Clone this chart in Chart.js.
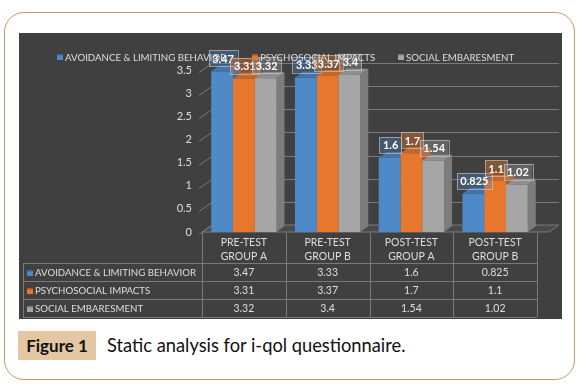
<!DOCTYPE html>
<html>
<head>
<meta charset="utf-8">
<script src="https://cdn.jsdelivr.net/npm/chart.js@4.4.1/dist/chart.umd.min.js"></script>
<style>
  html, body { margin: 0; padding: 0; background: #fff; }
  body { width: 577px; height: 384px; position: relative; overflow: hidden; font-family: Lato, "Open Sans", sans-serif; }
  .frame { position: absolute; left: 4px; top: 12px; width: 569px; height: 366px; border: 1.5px solid #c39a64; border-radius: 20px; }
  .panel { position: absolute; left: 19px; top: 33px; width: 543px; height: 286px; background: #404040; }
  .panel canvas { display: block; }
  .tag { position: absolute; left: 18px; top: 331px; width: 78px; height: 29px; background: #e3c6a2; color: #111; font-weight: bold; font-size: 17px; line-height: 29px; text-align: center; }
  .caption { position: absolute; left: 107px; top: 331px; line-height: 29px; font-size: 18.3px; color: #111; }
</style>
</head>
<body>
<div class="frame"></div>
<div class="panel"><canvas id="chart" width="543" height="286"></canvas></div>
<div class="tag">Figure 1</div>
<div class="caption">Static analysis for i-qol questionnaire.</div>
<script>
// data
const categories = [["PRE-TEST", "GROUP A"], ["PRE-TEST", "GROUP B"], ["POST-TEST", "GROUP A"], ["POST-TEST", "GROUP B"]];
const seriesNames = ["AVOIDANCE & LIMITING BEHAVIOR", "PSYCHOSOCIAL IMPACTS", "SOCIAL EMBARESMENT"];
const avoidance = [3.47, 3.33, 1.6, 0.825];
const psychosocial = [3.31, 3.37, 1.7, 1.1];
const embaresment = [3.32, 3.4, 1.54, 1.02];

const front = ["#4e89c8", "#e8772e", "#a6a6a6"];
const side = ["#386796", "#ad5720", "#7c7c7c"];
const top_ = ["#4374a8", "#c4652a", "#8f8f8f"];
const labelFill = ["rgba(78,137,200,0.35)", "rgba(232,119,46,0.4)", "rgba(166,166,166,0.35)"];

const DX = 8, DY = 6;   // 3d depth offset
const textCol = "#dedede";
const lineCol = "#7a7a7a";

// floor, back wall gridlines and the side/top faces of each column
const depthPlugin = {
  id: "depth",
  beforeDatasetsDraw(chart) {
    const ctx = chart.ctx, a = chart.chartArea, ys = chart.scales.y;
    ctx.save();
    ctx.strokeStyle = lineCol;
    ctx.lineWidth = 1;
    // floor
    const y0 = ys.getPixelForValue(0);
    ctx.fillStyle = "#4a4a4a";
    ctx.beginPath();
    ctx.moveTo(a.left, y0);
    ctx.lineTo(a.right + 12, y0);
    ctx.lineTo(a.right + 12 + DX + 2, y0 - DY - 1);
    ctx.lineTo(a.left + DX + 2, y0 - DY - 1);
    ctx.closePath();
    ctx.fill();
    ctx.stroke();
    // gridlines + diagonal ticks
    ys.ticks.forEach(t => {
      const y = Math.round(ys.getPixelForValue(t.value)) + 0.5;
      ctx.beginPath();
      ctx.moveTo(a.left - 3, y + 2);
      ctx.lineTo(a.left + DX + 2, y - DY - 1);
      if (t.value > 0) ctx.lineTo(a.right + 12 + DX + 2, y - DY - 1);
      ctx.stroke();
    });
    // faces
    chart.data.datasets.forEach((ds, di) => {
      chart.getDatasetMeta(di).data.forEach(bar => {
        const p = bar.getProps(["x", "y", "base", "width"], true);
        const l = p.x - p.width / 2, r = p.x + p.width / 2;
        ctx.fillStyle = side[di];
        ctx.beginPath();
        ctx.moveTo(r, p.y); ctx.lineTo(r + DX, p.y - DY);
        ctx.lineTo(r + DX, p.base - DY); ctx.lineTo(r, p.base);
        ctx.closePath(); ctx.fill();
        ctx.fillStyle = top_[di];
        ctx.beginPath();
        ctx.moveTo(l, p.y); ctx.lineTo(l + DX, p.y - DY);
        ctx.lineTo(r + DX, p.y - DY); ctx.lineTo(r, p.y);
        ctx.closePath(); ctx.fill();
      });
    });
    ctx.restore();
  },
  afterDatasetsDraw(chart) {
    // value boxes above the columns
    const ctx = chart.ctx;
    ctx.save();
    ctx.font = "bold 11px Lato";
    ctx.textAlign = "center";
    ctx.textBaseline = "middle";
    chart.data.datasets.forEach((ds, di) => {
      chart.getDatasetMeta(di).data.forEach((bar, i) => {
        const p = bar.getProps(["x", "y"], true);
        const txt = String(ds.data[i]);
        const w = ctx.measureText(txt).width + 7, h = 16;
        const cx = p.x + 1, by = p.y - 5;
        ctx.fillStyle = labelFill[di];
        ctx.fillRect(cx - w / 2, by - h, w, h);
        ctx.strokeStyle = "rgba(215,215,215,0.55)";
        ctx.strokeRect(Math.round(cx - w / 2) + 0.5, Math.round(by - h) + 0.5, Math.round(w), h);
        ctx.fillStyle = "#fff";
        ctx.fillText(txt, cx, by - h / 2 + 1);
      });
    });
    ctx.restore();
  },
  afterDraw(chart) {
    const ctx = chart.ctx, a = chart.chartArea, xs = chart.scales.x;
    const n = categories.length, cw = (a.right - a.left) / n;
    ctx.save();
    ctx.textBaseline = "middle";

    const key = (x, y, di) => {
      ctx.fillStyle = front[di];
      ctx.fillRect(x, y - 3, 6, 6);
      ctx.fillStyle = side[di];
      ctx.fillRect(x, y - 3, 6, 1.5);
    };

    // legend
    ctx.font = "9.7px Lato";
    const legX = [38, 233, 379], legY = 24;
    seriesNames.forEach((s, di) => {
      key(legX[di], legY, di);
      ctx.fillStyle = textCol;
      ctx.textAlign = "left";
      ctx.fillText(s, legX[di] + 8, legY + 1);
    });

    // data table
    const hTop = a.bottom + 1, rowTop = a.bottom + 31, rh = 18, tLeft = 4;
    const rows = [avoidance, psychosocial, embaresment];
    const tBottom = rowTop + rh * rows.length;
    ctx.strokeStyle = lineCol;
    ctx.lineWidth = 1;
    ctx.beginPath();
    for (let i = 0; i <= n; i++) {
      const x = Math.round(a.left + i * cw) + 0.5;
      ctx.moveTo(x, hTop); ctx.lineTo(x, tBottom);
    }
    ctx.moveTo(tLeft + 0.5, rowTop); ctx.lineTo(tLeft + 0.5, tBottom);
    for (let r = 0; r <= rows.length; r++) {
      const y = rowTop + r * rh + 0.5;
      ctx.moveTo(tLeft, y); ctx.lineTo(a.right, y);
    }
    ctx.stroke();

    ctx.font = "10.5px Lato";
    ctx.fillStyle = textCol;
    ctx.textAlign = "center";
    categories.forEach((c, i) => {
      const x = xs.getPixelForValue(i);
      ctx.fillText(c[0], x, hTop + 10);
      ctx.fillText(c[1], x, hTop + 24);
    });
    rows.forEach((vals, r) => {
      const y = rowTop + r * rh + rh / 2 + 1;
      key(tLeft + 4, y, r);
      ctx.fillStyle = textCol;
      ctx.textAlign = "left";
      ctx.font = "9.7px Lato";
      ctx.fillText(seriesNames[r], tLeft + 12, y);
      ctx.textAlign = "center";
      ctx.font = "10.5px Lato";
      vals.forEach((v, i) => ctx.fillText(String(v), xs.getPixelForValue(i), y));
    });
    ctx.restore();
  }
};

new Chart(document.getElementById("chart"), {
  type: "bar",
  data: {
    labels: categories,
    datasets: [
      { label: seriesNames[0], data: avoidance, backgroundColor: front[0] },
      { label: seriesNames[1], data: psychosocial, backgroundColor: front[1] },
      { label: seriesNames[2], data: embaresment, backgroundColor: front[2] }
    ]
  },
  options: {
    responsive: false,
    animation: false,
    datasets: { bar: { categoryPercentage: 0.78, barPercentage: 1, borderWidth: 0 } },
    layout: { padding: { left: 0, top: 37, right: 25, bottom: 87 } },
    plugins: { legend: { display: false }, tooltip: { enabled: false } },
    scales: {
      x: { display: false },
      y: {
        min: 0, max: 3.5,
        ticks: { stepSize: 0.5, color: textCol, font: { family: "Lato", size: 11 }, padding: 10, callback: v => String(v) },
        grid: { display: false, drawTicks: false },
        border: { display: false },
        afterFit(scale) { scale.width = 183; }
      }
    }
  },
  plugins: [depthPlugin]
});
</script>
</body>
</html>
